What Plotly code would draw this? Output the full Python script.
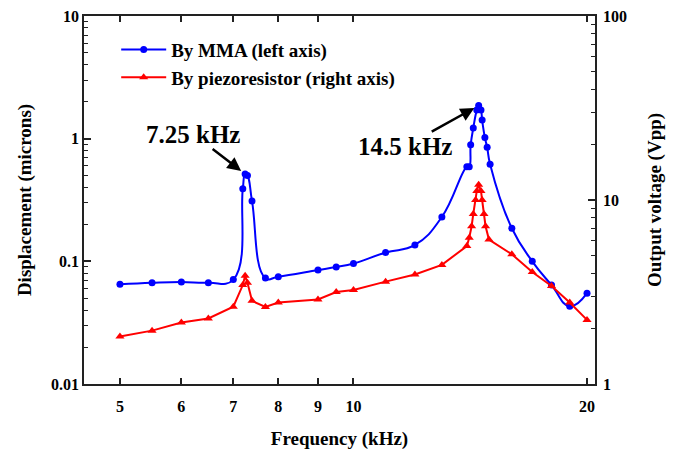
import numpy as np
import plotly.graph_objects as go

# Data
freq_mma = [5, 5.5, 6, 6.5, 7.0, 7.2, 7.25, 7.3, 7.4, 7.7, 8, 9, 9.5, 10, 11, 12, 13,
            14.0, 14.1, 14.16, 14.27, 14.42, 14.5, 14.6, 14.65, 14.77, 14.87, 15.0,
            16, 17, 18, 19, 20]
disp_mma = [0.065, 0.067, 0.068, 0.067, 0.071, 0.39, 0.515, 0.50, 0.31, 0.073, 0.075,
            0.085, 0.090, 0.096, 0.118, 0.136, 0.23,
            0.59, 0.59, 0.89, 1.22, 1.71, 1.86, 1.71, 1.42, 1.02, 0.85, 0.62,
            0.186, 0.10, 0.064, 0.043, 0.055]

freq_pz = [5, 5.5, 6, 6.5, 7.0, 7.2, 7.25, 7.3, 7.4, 7.7, 8, 9, 9.5, 10, 11, 12, 13,
           14.0, 14.1, 14.2, 14.27, 14.37, 14.42, 14.5, 14.6, 14.65, 14.73, 14.8, 14.95,
           16, 17, 18, 19, 20]
volt_pz = [1.81, 1.95, 2.16, 2.27, 2.63, 3.45, 3.87, 3.55, 2.83, 2.62, 2.77, 2.88, 3.16,
           3.24, 3.6, 3.94, 4.44,
           5.62, 6.24, 7.2, 8.4, 10.0, 11.2, 12.1, 11.2, 10.0, 8.4, 7.2, 6.1,
           5.07, 4.06, 3.41, 2.77, 2.23]

x_ticks = [5, 6, 7, 8, 9, 10, 20]
y_left_ticks = [0.01, 0.1, 1, 10]
y_left_labels = ["0.01", "0.1", "1", "10"]
y_right_ticks = [1, 10, 100]
y_right_labels = ["1", "10", "100"]
peak_labels = ["7.25 kHz", "14.5 kHz"]
peak_freqs = [7.25, 14.5]

FONT = "Liberation Serif"
AX = "#222222"

def minor_vals(lo_exp, hi_exp):
    return [m * 10 ** e for e in range(lo_exp, hi_exp) for m in range(2, 10)]

fig = go.Figure()
fig.add_trace(go.Scatter(
    x=freq_mma, y=disp_mma, name="<b>By MMA (left axis)</b>", mode="lines+markers",
    line=dict(color="#0000FF", width=2, shape="spline", smoothing=1.3),
    marker=dict(symbol="circle", size=7, color="#0000FF"), yaxis="y"))
fig.add_trace(go.Scatter(
    x=freq_pz, y=volt_pz, name="<b>By piezoresistor (right axis)</b>", mode="lines+markers",
    line=dict(color="#FF0000", width=2),
    marker=dict(symbol="triangle-up", size=8, color="#FF0000"), yaxis="y2"))

# annotations pointing at the MMA peaks
anns = []
offsets = [(-52, -40), (-74, 41)]
for lab, pf, (axo, ayo) in zip(peak_labels, peak_freqs, offsets):
    i = freq_mma.index(pf)
    anns.append(dict(
        x=np.log10(freq_mma[i]), y=np.log10(disp_mma[i]), xref="x", yref="y",
        text="<b>%s</b>" % lab, showarrow=True, ax=axo, ay=ayo,
        arrowhead=2, arrowsize=1.1, arrowwidth=2.5, arrowcolor="black",
        standoff=5, font=dict(family=FONT, size=25, color="black")))

fig.update_layout(
    width=681, height=450,
    margin=dict(l=84, r=86, t=16, b=66),
    paper_bgcolor="white", plot_bgcolor="white",
    font=dict(family=FONT, color="black"),
    showlegend=True,
    legend=dict(x=0.063, y=0.96, xanchor="left", yanchor="top",
                bgcolor="rgba(0,0,0,0)", itemwidth=45, tracegroupgap=0,
                font=dict(family=FONT, size=19, color="black")),
    annotations=anns,
    xaxis=dict(
        type="log", range=[np.log10(4.494), np.log10(20.48)],
        tickvals=x_ticks, ticktext=["<b>%s</b>" % v for v in x_ticks],
        ticks="inside", ticklen=6, tickwidth=1.5, tickcolor=AX,
        ticklabelstandoff=7, automargin=False,
        showline=True, linecolor=AX, linewidth=1.5, mirror="ticks",
        showgrid=False, zeroline=False,
        tickfont=dict(family=FONT, size=16, color="black"),
        title=dict(text="<b>Frequency (kHz)</b>", standoff=20,
                   font=dict(family=FONT, size=19, color="black"))),
    yaxis=dict(
        type="log", range=[-2, 1], automargin=False,
        tickvals=y_left_ticks, ticktext=["<b>%s</b>" % t for t in y_left_labels],
        ticks="inside", ticklen=7, tickwidth=1.5, tickcolor=AX,
        minor=dict(tickvals=minor_vals(-2, 1), ticks="inside", ticklen=4,
                   tickwidth=1.2, tickcolor=AX, showgrid=False),
        showline=True, linecolor=AX, linewidth=1.5,
        showgrid=False, zeroline=False,
        tickfont=dict(family=FONT, size=16, color="black"),
        title=dict(text="<b>Displacement (microns)</b>", standoff=14,
                   font=dict(family=FONT, size=19, color="black"))),
    yaxis2=dict(
        type="log", range=[0, 2], overlaying="y", side="right", automargin=False,
        tickvals=y_right_ticks, ticktext=["<b>%s</b>" % t for t in y_right_labels],
        ticks="inside", ticklen=7, tickwidth=1.5, tickcolor=AX,
        ticklabelstandoff=3,
        minor=dict(tickvals=minor_vals(0, 2), ticks="inside", ticklen=4,
                   tickwidth=1.2, tickcolor=AX, showgrid=False),
        showline=True, linecolor=AX, linewidth=1.5,
        showgrid=False, zeroline=False,
        tickfont=dict(family=FONT, size=16, color="black"),
        title=dict(text="<b>Output voltage (Vpp)</b>", standoff=22,
                   font=dict(family=FONT, size=19, color="black"))),
)

fig.write_html("out.html")
